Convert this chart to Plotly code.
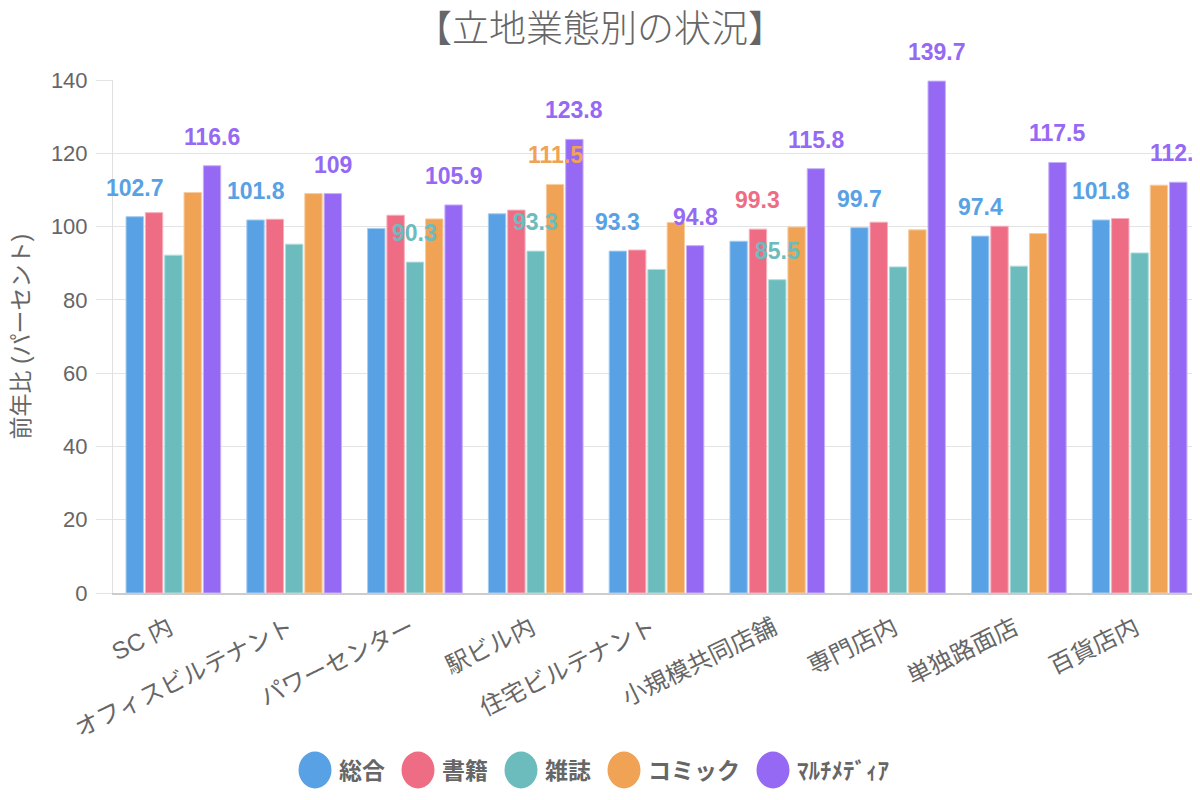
import plotly.graph_objects as go

# ---------------- data ----------------
categories = ["SC 内", "オフィスビルテナント", "パワーセンター", "駅ビル内", "住宅ビルテナント",
              "小規模共同店舗", "専門店内", "単独路面店", "百貨店内"]
series_names = ["総合", "書籍", "雑誌", "コミック", "ﾏﾙﾁﾒﾃﾞｨｱ"]
sogo = [102.7, 101.8, 99.5, 103.5, 93.3, 96.0, 99.7, 97.4, 101.8]
shoseki = [103.8, 102.0, 103.1, 104.5, 93.6, 99.3, 101.2, 100.1, 102.2]
zasshi = [92.2, 95.2, 90.3, 93.3, 88.3, 85.5, 89.0, 89.2, 92.8]
comic = [109.3, 109.0, 102.1, 111.5, 101.1, 99.9, 99.1, 98.1, 111.3]
multimedia = [116.6, 109, 105.9, 123.8, 94.8, 115.8, 139.7, 117.5, 112.1]
y_tick_values = [0, 20, 40, 60, 80, 100, 120, 140]

title_text = "【立地業態別の状況】"
y_title_text = "前年比 (パーセント)"

# ---------------- style ----------------
colors = ["#58A1E4", "#EE6D85", "#6CBCBE", "#F0A355", "#9569F4"]
edge_colors = ["#A6CDF2", "#F6B0BD", "#B1DDDE", "#F7CDA0", "#C7B0F9"]
GRAY = "#666666"
CJK = "Noto Sans CJK JP"
LATIN = "Liberation Sans"

W, H = 1200, 800
OFF = 8  # page body margin: figure is drawn starting at (8, 8) in the window
# target plot area in window pixels: x 113..1200, y 80..593
ML, MR, MT, MB = 113 - OFF, OFF, 80 - OFF, H - (593 - OFF)
PW, PH = W - ML - MR, H - MT - MB
Y_MAX = 140
N = len(categories)
NS = len(series_names)
SLOT = 0.8 / NS
BAR_W = SLOT * 0.9

LABEL_SIZE = 23
LABEL_GAP = 29       # px from bar top to label centre
PAD_X = 8.3
BOX_H = 44.2

series_values = [sogo, shoseki, zasshi, comic, multimedia]


def fmt(v):
    return f"{v:g}"


def px_x(x):
    return ML + (x + 0.5) / N * PW


def px_y(v):
    return MT + PH * (1 - v / Y_MAX)


def text_width(s, size):
    w = 0.0
    for ch in s:
        w += 0.278 if ch in ".," else 0.556
    return w * size


def fx(p):  # window px -> paper x
    return (p - OFF - ML) / PW


def fy(p):  # window px -> paper y
    return (H - MB - (p - OFF)) / PH


fig = go.Figure()

# bars
for k, (name, vals) in enumerate(zip(series_names, series_values)):
    xs = [g + (k - (NS - 1) / 2) * SLOT for g in range(N)]
    fig.add_trace(go.Bar(
        x=xs, y=vals, width=BAR_W, name=name,
        marker=dict(color=colors[k], line=dict(color=edge_colors[k], width=1)),
        showlegend=False,
    ))

# data labels with overlap hiding (priority: category first, then series order)
visible_boxes = []
annotations = []
for g in range(N):
    for k in range(NS):
        v = series_values[k][g]
        x = g + (k - (NS - 1) / 2) * SLOT
        txt = fmt(v)
        cx = px_x(x)
        cy = px_y(v) - LABEL_GAP
        hw = text_width(txt, LABEL_SIZE) / 2 + PAD_X
        box = (cx - hw, cx + hw, cy - BOX_H / 2, cy + BOX_H / 2)
        hit = any(not (box[1] < b[0] or box[0] > b[1] or box[3] < b[2] or box[2] > b[3])
                  for b in visible_boxes)
        if hit:
            continue
        visible_boxes.append(box)
        annotations.append(dict(
            x=x, y=v, xref="x", yref="y", text=f"<b>{txt}</b>", showarrow=False,
            xanchor="center", yanchor="middle", yshift=LABEL_GAP,
            font=dict(family=LATIN, size=LABEL_SIZE, color=colors[k]),
        ))

# y axis title
annotations.append(dict(
    x=fx(20), y=0.5, xref="paper", yref="paper", text=y_title_text,
    textangle=-90, showarrow=False, xanchor="center", yanchor="middle",
    font=dict(family=f"{LATIN}, {CJK}", size=23, color=GRAY),
))

# custom legend (large ellipse markers)
LEG_SIZE = 23
CIRC_W, CIRC_H = 33, 37
LEG_GAP, ITEM_GAP = 8, 16
LEG_CY = 770


def leg_text_w(s):
    w = 0
    for ch in s:
        w += 0.5 if 0xFF61 <= ord(ch) <= 0xFF9F else 1.0
    return w * LEG_SIZE


widths = [CIRC_W + LEG_GAP + leg_text_w(s) for s in series_names]
total = sum(widths) + ITEM_GAP * (NS - 1)
cur = 594 - total / 2
shapes = []

for k, name in enumerate(series_names):
    shapes.append(dict(
        type="circle", xref="paper", yref="paper",
        x0=fx(cur), x1=fx(cur + CIRC_W), y0=fy(LEG_CY + CIRC_H / 2), y1=fy(LEG_CY - CIRC_H / 2),
        fillcolor=colors[k], line=dict(width=0),
    ))
    annotations.append(dict(
        x=fx(cur + CIRC_W + LEG_GAP - 3), y=fy(LEG_CY - 1), xref="paper", yref="paper",
        text=f"<b>{name}</b>", showarrow=False, xanchor="left", yanchor="middle",
        font=dict(family=CJK, size=LEG_SIZE, color=GRAY),
    ))
    cur += widths[k] + ITEM_GAP

fig.update_layout(
    width=W, height=H,
    margin=dict(l=ML, r=MR, t=MT, b=MB, autoexpand=False),
    paper_bgcolor="white", plot_bgcolor="white",
    barmode="overlay",
    title=dict(text=title_text, x=(600 - OFF) / W, xanchor="center",
               y=1 - (29 - OFF) / H, yanchor="middle", yref="container",
               font=dict(family=CJK, size=37, color=GRAY, weight=300)),
    xaxis=dict(
        range=[-0.5, N - 0.5], tickmode="array", tickvals=list(range(N)), ticktext=categories,
        tickangle=-26, showgrid=False, zeroline=False, showline=True,
        linecolor="#cccccc", linewidth=2, ticks="", ticklabelstandoff=10, ticklabelshift=-4,
        tickfont=dict(family=f"{LATIN}, {CJK}", size=24, color=GRAY),
        fixedrange=True,
    ),
    yaxis=dict(
        range=[0, Y_MAX], tickmode="array", tickvals=y_tick_values,
        showgrid=True, gridcolor="#e4e4e4", gridwidth=1, zeroline=False,
        showline=True, linecolor="#e0e0e0", linewidth=1,
        ticks="outside", ticklen=16, tickcolor="#e4e4e4", ticklabelstandoff=4,
        tickfont=dict(family=LATIN, size=22, color=GRAY),
        fixedrange=True,
    ),
    shapes=shapes,
    annotations=annotations,
    showlegend=False,
)

fig.write_html("out.html")
